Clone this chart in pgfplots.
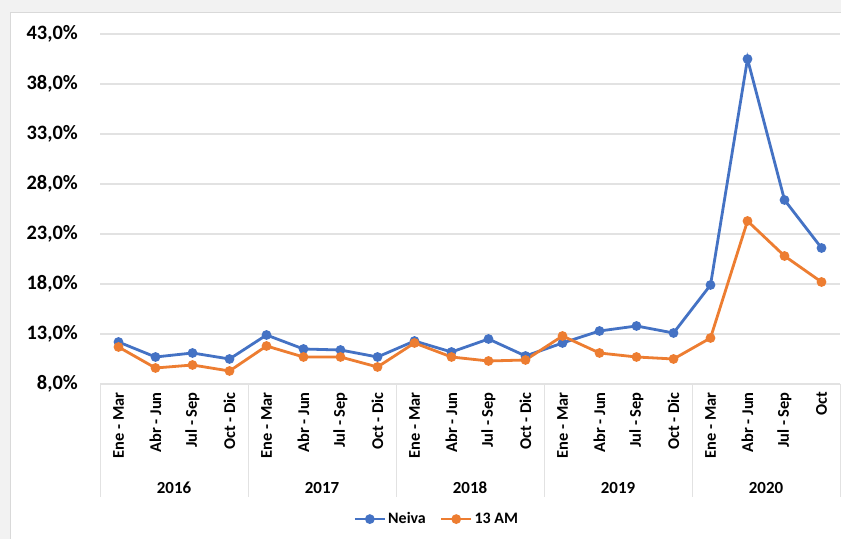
\documentclass[border=0pt]{standalone}
\usepackage{pgfplots}
\pgfplotsset{compat=1.18}
\usepackage{fontspec}
\setmainfont{Carlito}
\definecolor{neiva}{HTML}{4472C4}
\definecolor{am}{HTML}{ED7D31}
\definecolor{gridc}{HTML}{E2E2E2}
\begin{document}
\begin{tikzpicture}[x=1bp,y=1bp]
\useasboundingbox (0,0) rectangle (841,539);
\fill[black!5] (0,0) rectangle (841,539);
\filldraw[fill=white,draw=black!15,line width=1bp] (10.5,-2) rectangle (845,526.5);
\begin{axis}[
  at={(100bp,155bp)}, anchor=south west,
  scale only axis, width=740bp, height=350bp,
  clip=false,
  xmin=-0.5, xmax=19.5, ymin=8, ymax=43,
  xtick={0,...,19},
  xticklabels={Ene - Mar, Abr - Jun, Jul - Sep, Oct - Dic,
               Ene - Mar, Abr - Jun, Jul - Sep, Oct - Dic,
               Ene - Mar, Abr - Jun, Jul - Sep, Oct - Dic,
               Ene - Mar, Abr - Jun, Jul - Sep, Oct - Dic,
               Ene - Mar, Abr - Jun, Jul - Sep, Oct},
  ytick={8,13,...,43},
  ymajorgrids, grid style={gridc, line width=1.3bp},
  axis line style={draw=none},
  major tick length=0pt,
  /pgf/number format/assume math mode=true,
  yticklabel={\pgfmathprintnumber[fixed,fixed zerofill,precision=1,use comma]{\tick}\%},
  yticklabel style={font=\fontsize{20.5}{20}\selectfont\bfseries, inner sep=0pt},
  yticklabel shift=22bp,
  xticklabel style={rotate=90, anchor=east, font=\fontsize{16.5}{16}\selectfont\bfseries, inner sep=0pt},
  xticklabel shift=8bp,
  legend style={draw=none, fill=none, at={(0.455,-0.386)}, anchor=center,
    legend columns=2, font=\fontsize{16}{16}\selectfont\bfseries,
    /tikz/every even column/.append style={column sep=12bp}},
  legend image code/.code={\draw[mark repeat=2,mark phase=2,#1] plot coordinates {(0bp,0bp) (15bp,0bp) (30bp,0bp)};},
]
\addplot[neiva, line width=2.8bp, mark=*, mark size=3.4bp, mark options={fill=neiva}] coordinates {
  (0,12.2) (1,10.7) (2,11.1) (3,10.5)
  (4,12.9) (5,11.5) (6,11.4) (7,10.7)
  (8,12.3) (9,11.2) (10,12.5) (11,10.8)
  (12,12.1) (13,13.3) (14,13.8) (15,13.1)
  (16,17.9) (17,40.5) (18,26.4) (19,21.6)
};
\addlegendentry{Neiva}
\addplot[am, line width=2.8bp, mark=*, mark size=3.4bp, mark options={fill=am}] coordinates {
  (0,11.7) (1,9.6) (2,9.9) (3,9.3)
  (4,11.8) (5,10.7) (6,10.7) (7,9.7)
  (8,12.1) (9,10.7) (10,10.3) (11,10.4)
  (12,12.8) (13,11.1) (14,10.7) (15,10.5)
  (16,12.6) (17,24.3) (18,20.8) (19,18.2)
};
\addlegendentry{13 AM}
% year separators and labels
\draw[gridc, line width=1bp] (axis cs:-0.5,8) -- ++(0bp,-113bp);
\draw[gridc, line width=1bp] (axis cs:3.5,8) -- ++(0bp,-113bp);
\draw[gridc, line width=1bp] (axis cs:7.5,8) -- ++(0bp,-113bp);
\draw[gridc, line width=1bp] (axis cs:11.5,8) -- ++(0bp,-113bp);
\draw[gridc, line width=1bp] (axis cs:15.5,8) -- ++(0bp,-113bp);
\draw[gridc, line width=1bp] (axis cs:19.5,8) -- ++(0bp,-113bp);
\node[font=\fontsize{17}{17}\selectfont\bfseries] at (axis cs:1.5,8) [yshift=-104bp] {2016};
\node[font=\fontsize{17}{17}\selectfont\bfseries] at (axis cs:5.5,8) [yshift=-104bp] {2017};
\node[font=\fontsize{17}{17}\selectfont\bfseries] at (axis cs:9.5,8) [yshift=-104bp] {2018};
\node[font=\fontsize{17}{17}\selectfont\bfseries] at (axis cs:13.5,8) [yshift=-104bp] {2019};
\node[font=\fontsize{17}{17}\selectfont\bfseries] at (axis cs:17.5,8) [yshift=-104bp] {2020};
\end{axis}
\end{tikzpicture}
\end{document}
